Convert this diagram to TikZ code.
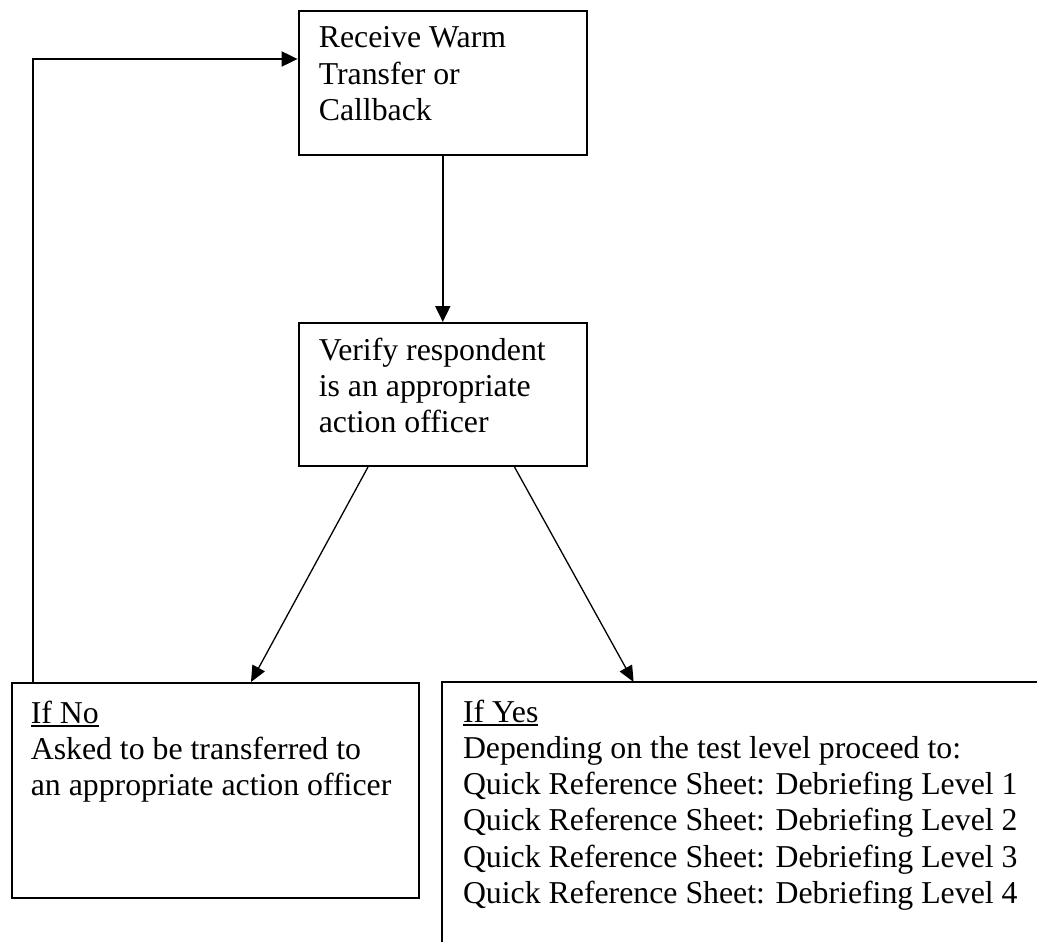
\documentclass[tikz,border=0pt]{standalone}
\usepackage{fontspec}
\setmainfont{Liberation Serif}
\usetikzlibrary{arrows.meta,calc}
% underlined heading word, rule placed just under the baseline
\newcommand\headword[1]{\setbox0\hbox{#1}\rlap{\rule[-3.8pt]{\wd0}{1.5pt}}\box0}
\begin{document}
\begin{tikzpicture}[x=1pt,y=1pt,
  box/.style={draw, line width=2pt, inner sep=0, anchor=north west},
  boxtext/.style={anchor=base west, inner sep=0, font=\fontsize{31.8}{36.3}\selectfont},
  flow/.style={line width=2pt, -{Triangle[length=16pt,width=15pt]}},
  branch/.style={line width=1.3pt, -{Triangle[length=16pt,width=14pt]}}]
\clip (0,0) rectangle (1037,-942);

% process boxes
\node[box, minimum width=288.4pt, minimum height=144pt] (recv) at (297.6,-10) {};
\node[box, minimum width=288.4pt, minimum height=143pt] (verify) at (297.6,-322) {};
\node[box, minimum width=407.4pt, minimum height=215pt] (no) at (10.6,-682) {};
% the "yes" box runs off the right and bottom edges: only its top and left sides show
\node[inner sep=0, anchor=north west, minimum width=620pt, minimum height=280pt] (yes) at (441.8,-682) {};
\draw[line width=2pt] (yes.south west) -- (yes.north west) -- (yes.north east);

% box texts
\node[boxtext] (recvtext) at ($(recv.north west)+(21,-38)$)
  {\begin{tabular}[t]{@{}l@{}}Receive Warm\\Transfer or\\Callback\end{tabular}};
\node[boxtext] (verifytext) at ($(verify.north west)+(21,-38)$)
  {\begin{tabular}[t]{@{}l@{}}Verify respondent\\is an appropriate\\action officer\end{tabular}};
\node[boxtext] (notext) at ($(no.north west)+(20,-41)$)
  {\begin{tabular}[t]{@{}l@{}}\headword{If No}\\Asked to be transferred to\\an appropriate action officer\end{tabular}};
\node[boxtext] (yestext) at ($(yes.north west)+(21,-40)$)
  {\begin{tabular}[t]{@{}l@{}}\headword{If Yes}\\Depending on the test level proceed to:\\
   Quick Reference Sheet: Debriefing Level 1\\
   Quick Reference Sheet: Debriefing Level 2\\
   Quick Reference Sheet: Debriefing Level 3\\
   Quick Reference Sheet: Debriefing Level 4\end{tabular}};

% connectors
\draw[flow] (recv.south) -- (verify.north);
\draw[flow] ($(no.north west)+(22.4,0)$) |- ($(recv.north west)+(0,-49)$);
\draw[branch] ($(verify.south west)+(70.4,0)$) -- ($(no.north west)+(240.4,0)$);
\draw[branch] ($(verify.south west)+(216.9,0)$) -- ($(yes.north west)+(191.8,0)$);
\end{tikzpicture}
\end{document}
